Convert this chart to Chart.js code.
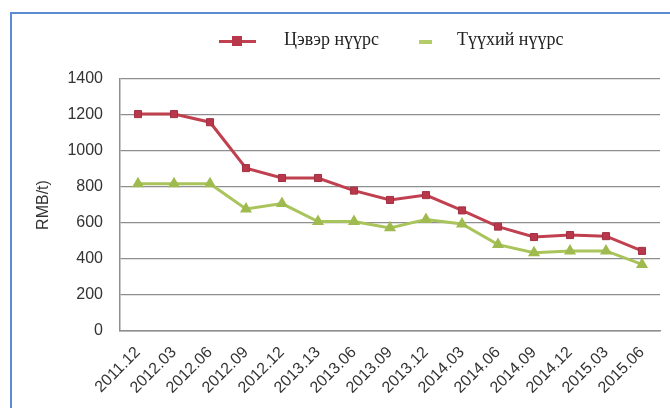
<!DOCTYPE html>
<html>
<head>
<meta charset="utf-8">
<script src="https://cdn.jsdelivr.net/npm/chart.js@4.4.4/dist/chart.umd.min.js"></script>
<style>
  body { margin: 0; background: #fff; }
  #wrap { position: relative; width: 670px; height: 408px; overflow: hidden; background: #fff; }
  #frame { position: absolute; left: 10px; top: 12px; right: -4px; bottom: -4px;
           border-left: 2px solid #5b8bd0; border-top: 2px solid #5b8bd0; }
  #chart { position: absolute; left: 0; top: 0; }
  .lg { position: absolute; top: 29px; font-family: "Liberation Serif", serif; font-size: 18px; color: #222; white-space: nowrap; }
  .lg-line { position: absolute; height: 3px; }
  .lg-box { position: absolute; width: 10px; height: 10px; }
</style>
</head>
<body>
<div id="wrap">
  <div id="frame"></div>
  <canvas id="chart" width="670" height="408"></canvas>
  <div class="lg-line" style="left:219px; top:40px; width:37px; background:#c0404f;"></div>
  <div class="lg-box" style="left:232px; top:36px; background:#b8374a;"></div>
  <span class="lg" style="left:284px;">Цэвэр нүүрс</span>
  <div class="lg-line" style="left:419px; top:40px; width:13px; height:4px; background:#b4cc6a;"></div>
  <span class="lg" style="left:457px;">Түүхий нүүрс</span>
</div>
<script>
  // periods (quarter labels as printed on the source)
  const periods = ['2011.12', '2012.03', '2012.06', '2012.09', '2012.12', '2013.13', '2013.06',
                   '2013.09', '2013.12', '2014.03', '2014.06', '2014.09', '2014.12', '2015.03', '2015.06'];
  // RMB/t
  const cleanCoal = [1205, 1205, 1160, 905, 850, 850, 780, 728, 755, 670, 580, 522, 533, 527, 445];
  const rawCoal   = [818, 818, 818, 678, 708, 608, 608, 573, 620, 595, 480, 435, 445, 445, 370];
  const yTicks = [0, 200, 400, 600, 800, 1000, 1200, 1400];

  const red = '#c0404f';
  const green = '#a9c45a';
  const gridColor = '#8e8e8e';
  const tickFont = { family: 'Liberation Sans', size: 16 };

  new Chart(document.getElementById('chart').getContext('2d'), {
    type: 'line',
    data: {
      labels: periods,
      datasets: [
        {
          label: 'Цэвэр нүүрс',
          data: cleanCoal,
          borderColor: red,
          borderWidth: 3,
          pointStyle: 'rect',
          pointRadius: 5,
          pointBackgroundColor: '#b8374a',
          pointBorderColor: '#a33042',
          pointBorderWidth: 1,
          tension: 0
        },
        {
          label: 'Түүхий нүүрс',
          data: rawCoal,
          borderColor: green,
          borderWidth: 3,
          pointStyle: 'triangle',
          pointRadius: 4,
          pointBackgroundColor: '#9fbb50',
          pointBorderColor: '#9fbb50',
          tension: 0
        }
      ]
    },
    options: {
      responsive: false,
      animation: false,
      devicePixelRatio: 1,
      layout: { padding: { top: 79, right: 10, left: 0, bottom: 0 } },
      plugins: { legend: { display: false }, tooltip: { enabled: false } },
      scales: {
        x: {
          offset: true,
          grid: { display: false },
          border: { color: gridColor, width: 1.5 },
          ticks: { color: '#333', font: tickFont, minRotation: 45, maxRotation: 45, autoSkip: false, padding: 4 },
          afterFit: function (s) { s.height = 77; }
        },
        y: {
          min: 0,
          max: 1400,
          afterBuildTicks: function (s) { s.ticks = yTicks.map(function (v) { return { value: v }; }); },
          grid: { color: gridColor, lineWidth: 1.2, drawTicks: false },
          border: { color: gridColor, width: 1.5 },
          ticks: { color: '#333', font: tickFont, padding: 17, callback: function (v) { return String(v); } },
          title: { display: true, text: 'RMB/t)', color: '#333', font: { family: 'Liberation Sans', size: 16 }, padding: { top: 34 } },
          afterFit: function (s) { s.width = 120; }
        }
      }
    }
  });
</script>
</body>
</html>
